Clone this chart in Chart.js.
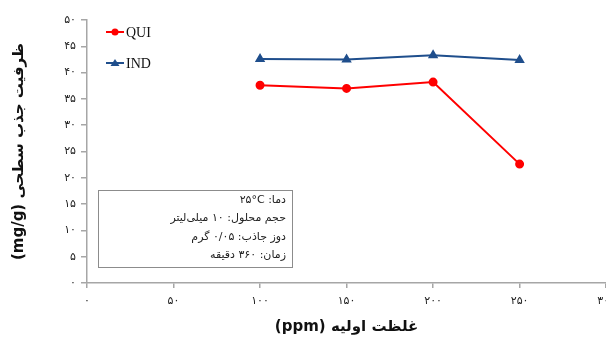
<!DOCTYPE html>
<html lang="fa">
<head>
  <meta charset="UTF-8">
  <title>ظرفیت جذب سطحی</title>
  <script src="https://cdn.jsdelivr.net/npm/chart.js"></script>
  <style>
    html, body { margin: 0; padding: 0; background: #fff; overflow: hidden; }
    #chart { display: block; direction: rtl; }
  </style>
</head>
<body>
<canvas id="chart" width="622" height="341"></canvas>

<script>
  // غلظت اولیه (ppm)
  var concentrations = [100, 150, 200, 250];
  // ظرفیت جذب (mg/g)
  var quiValues = [37.6, 37.0, 38.2, 22.6];
  var indValues = [42.6, 42.5, 43.3, 42.4];
  var seriesNames = ['QUI', 'IND'];
  var conditionLines = [
    'دما: \u2066۲۵°C\u2069',
    'حجم محلول: ۱۰ میلی‌لیتر',
    'دوز جاذب: ۰/۰۵ گرم',
    'زمان: ۳۶۰ دقیقه'
  ];

  function fa(n) {
    return String(n).replace(/\d/g, function(d) { return '۰۱۲۳۴۵۶۷۸۹'[d]; });
  }

  function points(vals) {
    return concentrations.map(function(x, i) { return { x: x, y: vals[i] }; });
  }

  var axisGray = '#a6a6a6';
  var persianFont = '"DejaVu Sans", sans-serif';

  // legend drawn in the top-left corner of the plot
  var cornerLegend = {
    id: 'cornerLegend',
    afterDraw: function(chart) {
      var ctx = chart.ctx;
      ctx.save();
      ctx.direction = 'ltr';
      chart.data.datasets.forEach(function(ds, i) {
        var y = 32 + i * 31;
        ctx.strokeStyle = ds.borderColor;
        ctx.lineWidth = 2;
        ctx.beginPath();
        ctx.moveTo(106, y);
        ctx.lineTo(124, y);
        ctx.stroke();
        ctx.fillStyle = ds.borderColor;
        ctx.beginPath();
        if (ds.pointStyle === 'triangle') {
          ctx.moveTo(115, y - 4);
          ctx.lineTo(119.5, y + 3);
          ctx.lineTo(110.5, y + 3);
          ctx.closePath();
        } else {
          ctx.arc(115, y, 3.5, 0, Math.PI * 2);
        }
        ctx.fill();
        ctx.fillStyle = '#111';
        ctx.font = '14px "Liberation Serif", serif';
        ctx.textAlign = 'left';
        ctx.textBaseline = 'middle';
        ctx.fillText(ds.label, 126, y + 1);
      });
      ctx.restore();
    }
  };

  // experimental conditions box
  var conditionBox = {
    id: 'conditionBox',
    afterDraw: function(chart) {
      var ctx = chart.ctx;
      ctx.save();
      ctx.strokeStyle = '#8c8c8c';
      ctx.lineWidth = 1;
      ctx.strokeRect(98.5, 190.5, 194, 77);
      ctx.direction = 'rtl';
      ctx.fillStyle = '#222';
      ctx.font = '11px ' + persianFont;
      ctx.textAlign = 'right';
      ctx.textBaseline = 'middle';
      conditionLines.forEach(function(line, i) {
        ctx.fillText(line, 286, 200 + i * 18.5);
      });
      ctx.restore();
    }
  };

  var ctx = document.getElementById('chart').getContext('2d');
  new Chart(ctx, {
    type: 'line',
    data: {
      datasets: [{
        label: seriesNames[0],
        data: points(quiValues),
        borderColor: '#ff0000',
        backgroundColor: '#ff0000',
        borderWidth: 2,
        pointStyle: 'circle',
        pointRadius: 3.5,
        tension: 0
      }, {
        label: seriesNames[1],
        data: points(indValues),
        borderColor: '#1f4e8c',
        backgroundColor: '#1f4e8c',
        borderWidth: 2,
        pointStyle: 'triangle',
        pointRadius: 4,
        tension: 0
      }]
    },
    options: {
      responsive: false,
      animation: false,
      layout: { padding: { top: 20, right: 0, left: 0, bottom: 0 } },
      plugins: {
        legend: { display: false },
        tooltip: { enabled: false }
      },
      scales: {
        x: {
          type: 'linear',
          min: 0,
          max: 300,
          afterFit: function(scale) { scale.height = 58; },
          ticks: {
            stepSize: 50,
            padding: 7,
            color: '#222',
            font: { family: persianFont, size: 11 },
            callback: function(v) { return fa(v); }
          },
          grid: { drawOnChartArea: false, color: axisGray, tickLength: 5, lineWidth: 1.5 },
          border: { color: axisGray, width: 1.5 },
          title: {
            display: true,
            text: 'غلظت اولیه (ppm)',
            color: '#111',
            font: { family: persianFont, size: 15, weight: 'bold' },
            padding: { top: 0, bottom: 5 }
          }
        },
        y: {
          min: 0,
          max: 50,
          afterFit: function(scale) { scale.width = 87; },
          ticks: {
            stepSize: 5,
            padding: 5,
            color: '#222',
            font: { family: persianFont, size: 11 },
            callback: function(v) { return fa(v); }
          },
          grid: { drawOnChartArea: false, color: axisGray, tickLength: 6, lineWidth: 1.5 },
          border: { color: axisGray, width: 1.5 },
          title: {
            display: true,
            text: 'ظرفیت جذب سطحی (mg/g)',
            color: '#111',
            font: { family: persianFont, size: 15, weight: 'bold' },
            padding: { top: 10, bottom: 0 }
          }
        }
      }
    },
    plugins: [cornerLegend, conditionBox]
  });
</script>
</body>
</html>
